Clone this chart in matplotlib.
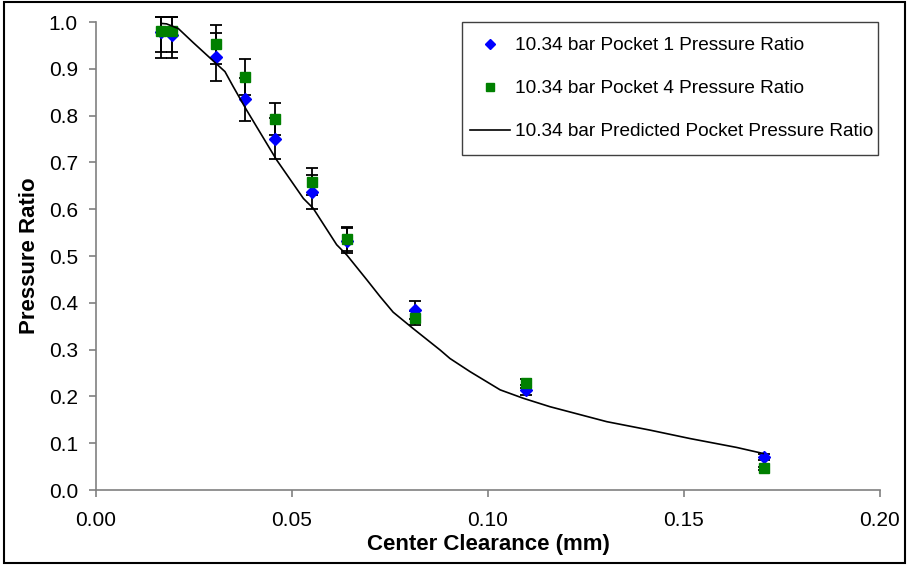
import matplotlib
matplotlib.use("Agg")
import matplotlib.pyplot as plt
from matplotlib.lines import Line2D
from matplotlib.patches import Rectangle

plt.rcParams['font.family'] = ['Liberation Sans', 'DejaVu Sans']

# ---- data ----
clearance = [0.0167, 0.0193, 0.0306, 0.0380, 0.0457, 0.0551, 0.0640, 0.0814, 0.1097, 0.1704]

pocket1 = [0.978, 0.972, 0.925, 0.835, 0.751, 0.637, 0.533, 0.385, 0.214, 0.071]
pocket1_err_lo = [0.054, 0.048, 0.051, 0.046, 0.044, 0.036, 0.026, 0.019, 0.010, 0.006]
pocket1_err_hi = [0.032, 0.038, 0.051, 0.046, 0.044, 0.036, 0.026, 0.019, 0.010, 0.006]

pocket4 = [0.981, 0.981, 0.952, 0.883, 0.793, 0.659, 0.536, 0.368, 0.228, 0.046]
pocket4_err_lo = [0.046, 0.046, 0.042, 0.039, 0.034, 0.028, 0.025, 0.015, 0.009, 0.004]
pocket4_err_hi = [0.029, 0.029, 0.042, 0.039, 0.034, 0.028, 0.025, 0.015, 0.009, 0.004]

pred_x = [0.0166, 0.0180, 0.0210, 0.0248, 0.0308, 0.0329, 0.0350, 0.0384, 0.0461,
          0.0529, 0.0554, 0.0584, 0.0614, 0.0640, 0.0691, 0.0725, 0.0758, 0.0809, 0.0878,
          0.0903, 0.0954, 0.1031, 0.1090, 0.1158, 0.1303, 0.1413, 0.1515, 0.1634, 0.1702]
pred_y = [0.997, 0.996, 0.986, 0.956, 0.910, 0.894, 0.862, 0.812, 0.705,
          0.623, 0.602, 0.563, 0.524, 0.502, 0.449, 0.413, 0.380, 0.345, 0.299,
          0.281, 0.253, 0.214, 0.196, 0.178, 0.146, 0.128, 0.110, 0.091, 0.078]

labels = ["10.34 bar Pocket 1 Pressure Ratio",
          "10.34 bar Pocket 4 Pressure Ratio",
          "10.34 bar Predicted Pocket Pressure Ratio"]
xticks = [0.00, 0.05, 0.10, 0.15, 0.20]
yticks = [0.0, 0.1, 0.2, 0.3, 0.4, 0.5, 0.6, 0.7, 0.8, 0.9, 1.0]

W, H = 907, 565
fig = plt.figure(figsize=(W / 100, H / 100), dpi=100)
ax = fig.add_axes([96 / W, 1 - 490 / H, (880 - 96) / W, (490 - 22) / H])

blue = '#0000FF'
green = '#008000'

ax.errorbar(clearance, pocket1, yerr=[pocket1_err_lo, pocket1_err_hi], fmt='none',
            ecolor='black', elinewidth=1.3, capsize=4.5, capthick=1.3, zorder=2, clip_on=False)
ax.errorbar(clearance, pocket4, yerr=[pocket4_err_lo, pocket4_err_hi], fmt='none',
            ecolor='black', elinewidth=1.3, capsize=4.5, capthick=1.3, zorder=2, clip_on=False)
ax.plot(clearance, pocket1, linestyle='none', marker='D', markersize=6.5, color=blue,
        zorder=3, clip_on=False)
ax.plot(clearance, pocket4, linestyle='none', marker='s', markersize=6.5, color=green,
        zorder=4, clip_on=False)
ax.plot(pred_x, pred_y, color='black', linewidth=1.2, zorder=5, clip_on=False)

ax.set_xlim(0, 0.20)
ax.set_ylim(0, 1.0)
ax.set_xticks(xticks)
ax.set_xticklabels([f"{t:.2f}" for t in xticks])
ax.set_yticks(yticks)
ax.set_yticklabels([f"{t:.1f}" for t in yticks])

for s in ['top', 'right']:
    ax.spines[s].set_visible(False)
for s in ['left', 'bottom']:
    ax.spines[s].set_color('#808080')
    ax.spines[s].set_linewidth(1.2)
ax.tick_params(axis='both', colors='#808080', labelcolor='black', length=5, width=1.2,
               labelsize=15, direction='out')
ax.tick_params(axis='x', pad=10)
ax.tick_params(axis='y', pad=8)

ax.set_xlabel("Center Clearance (mm)", fontsize=16, fontweight='bold', labelpad=3)
ax.set_ylabel("Pressure Ratio", fontsize=16, fontweight='bold', labelpad=6)

handles = [
    Line2D([], [], linestyle='none', marker='D', markersize=5.5, color=blue),
    Line2D([], [], linestyle='none', marker='s', markersize=5.5, color=green),
    Line2D([], [], color='black', linewidth=1.2),
]
leg = fig.legend(handles, labels, loc='upper left', bbox_to_anchor=(470 / W, 1 - 37 / H),
                 bbox_transform=fig.transFigure, fontsize=13.7, frameon=False,
                 borderaxespad=0, borderpad=0, labelspacing=1.35, handlelength=2.1,
                 handletextpad=0.25)

fig.patches.append(Rectangle((462 / W, 1 - 155 / H), (878 - 462) / W, (155 - 22) / H,
                             transform=fig.transFigure, fill=False, edgecolor='#404040',
                             linewidth=1.0, zorder=10))
fig.patches.append(Rectangle((4 / W, 2 / H), (905 - 4) / W, (563 - 2) / H,
                             transform=fig.transFigure, fill=False, edgecolor='black',
                             linewidth=1.5))

fig.savefig("out.png", dpi=100)
